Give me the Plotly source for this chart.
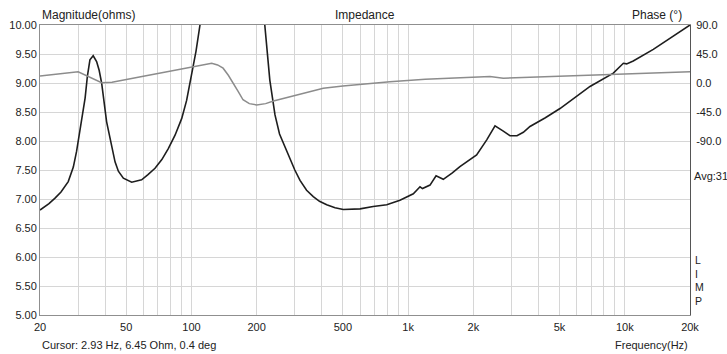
import math
import plotly.graph_objects as go

# ---- data ----
mag_freq = [20, 22, 23.4, 25, 27.0, 28.5, 29.5, 31, 32.3, 33.1, 34.0, 35.2, 36.5, 37.5, 38.5, 40.6,
            42.5, 44.4, 46, 48.5, 53.0, 58.9, 63, 67.9, 73, 78.2, 84, 90.2, 95, 100.2, 105, 109.5,
            125, 150, 180, 205, 218, 230, 243, 255, 270, 285, 300, 317, 340, 365, 390, 421, 460,
            502, 600, 690, 797, 917, 1057, 1135, 1165, 1262, 1346, 1453, 1600, 1734, 1900, 2071,
            2306, 2518, 2750, 2953, 3180, 3403, 3652, 4300, 5024, 6910, 8855, 9850, 10200, 10940,
            13540, 20000]
mag_ohm = [6.81, 6.92, 7.01, 7.12, 7.30, 7.55, 7.82, 8.30, 8.74, 9.12, 9.40, 9.47, 9.37, 9.22, 9.00,
           8.33, 7.95, 7.64, 7.48, 7.36, 7.29, 7.33, 7.42, 7.53, 7.68, 7.87, 8.10, 8.39, 8.70, 9.14,
           9.55, 10.0, 12.5, 16.0, 14.0, 11.2, 10.0, 9.05, 8.45, 8.12, 7.90, 7.70, 7.50, 7.32, 7.15,
           7.04, 6.96, 6.90, 6.85, 6.82, 6.83, 6.87, 6.90, 6.98, 7.09, 7.21, 7.18, 7.24, 7.40, 7.34,
           7.45, 7.56, 7.66, 7.76, 8.02, 8.26, 8.17, 8.09, 8.09, 8.15, 8.25, 8.40, 8.56, 8.94, 9.17,
           9.34, 9.33, 9.38, 9.58, 10.0]

phase_freq = [20, 30, 38.5, 43, 60, 88, 115, 124, 132, 140, 148, 156, 165, 173, 185, 200, 220,
              239, 280, 317, 350, 406, 500, 600, 824, 1200, 2387, 2750, 4316, 10000, 20000]
phase_deg = [11, 17.5, 0.5, 1, 10.5, 21, 29, 30.5, 28, 23, 12, 0, -14, -26, -32, -34, -32,
             -28, -22, -17, -12.5, -8, -4.5, -2, 2, 6, 10, 7.5, 9.8, 13, 17.5]

grid_freqs = [20, 30, 40, 50, 60, 70, 80, 90, 100, 200, 300, 400, 500, 600, 700, 800, 900,
              1000, 2000, 3000, 4000, 5000, 6000, 7000, 8000, 9000, 10000, 20000]
labeled = {20: "20", 50: "50", 100: "100", 200: "200", 500: "500", 1000: "1k",
           2000: "2k", 5000: "5k", 10000: "10k", 20000: "20k"}
grid_text = [labeled.get(f, "") for f in grid_freqs]

phase_ticks = [90, 45, 0, -45, -90]
phase_tick_text = ["90.0", "45.0", "0.0", "-45.0", "-90.0"]

FONT = "Liberation Sans, Arial, sans-serif"
TXT = "#222222"

fig = go.Figure()
fig.add_trace(go.Scatter(x=phase_freq, y=phase_deg, yaxis="y2", mode="lines",
                         line=dict(color="#8c8c8c", width=1.5),
                         hoverinfo="skip", showlegend=False))
fig.add_trace(go.Scatter(x=mag_freq, y=mag_ohm, mode="lines",
                         line=dict(color="#1e1e1e", width=1.6),
                         hoverinfo="skip", showlegend=False))

fig.update_layout(
    width=727, height=354,
    margin=dict(l=40, r=37, t=25, b=39, autoexpand=False),
    paper_bgcolor="white", plot_bgcolor="white",
    font=dict(family=FONT, size=11, color=TXT),
    xaxis=dict(type="log", range=[math.log10(20), math.log10(20000)],
               tickvals=grid_freqs, ticktext=grid_text, tickangle=0,
               showgrid=True, gridcolor="#d6d6d6", gridwidth=1,
               showline=True, linecolor="#8f8f8f", linewidth=1, mirror=True,
               ticks="", zeroline=False, automargin=False, ticklabelstandoff=2,
               tickfont=dict(size=11, color=TXT)),
    yaxis=dict(range=[5, 10], dtick=0.5, tick0=5, tickformat=".2f",
               showgrid=True, gridcolor="#d6d6d6", gridwidth=1,
               showline=True, linecolor="#8f8f8f", linewidth=1, mirror=True,
               ticks="", zeroline=False, automargin=False,
               tickfont=dict(size=11, color=TXT)),
    yaxis2=dict(overlaying="y", side="right", range=[-360, 90],
                tickvals=phase_ticks, ticktext=phase_tick_text,
                showgrid=False, zeroline=False, ticks="",
                showline=True, linecolor="#555555", linewidth=1,
                ticklabelstandoff=3, automargin=False,
                tickfont=dict(size=11, color=TXT)),
)

ann = [
    dict(text="Magnitude(ohms)", x=0, y=1, xref="paper", yref="paper", xanchor="left",
         yanchor="bottom", yshift=1, font=dict(size=12)),
    dict(text="Impedance", x=0.5, y=1, xref="paper", yref="paper", xanchor="center",
         yanchor="bottom", yshift=1, font=dict(size=12)),
    dict(text="Phase (°)", x=1, y=1, xref="paper", yref="paper", xanchor="right",
         yanchor="bottom", yshift=1, xshift=-6, font=dict(size=12)),
    dict(text="Avg:31", x=1, y=0.479, xref="paper", yref="paper", xanchor="left",
         yanchor="middle", xshift=2, font=dict(size=11)),
    dict(text="Cursor: 2.93 Hz, 6.45 Ohm, 0.4 deg", x=0, y=0, xref="paper", yref="paper",
         xanchor="left", yanchor="top", yshift=-22, font=dict(size=11)),
    dict(text="Frequency(Hz)", x=1, y=0, xref="paper", yref="paper",
         xanchor="right", yanchor="top", yshift=-22, font=dict(size=11)),
    dict(text="L<br>I<br>M<br>P", x=1, y=0, xref="paper", yref="paper", xanchor="left",
         yanchor="bottom", xshift=3, yshift=6, align="left", font=dict(size=10.5)),
]
for a in ann:
    a["showarrow"] = False
fig.update_layout(annotations=ann)

fig.write_html("out.html")
